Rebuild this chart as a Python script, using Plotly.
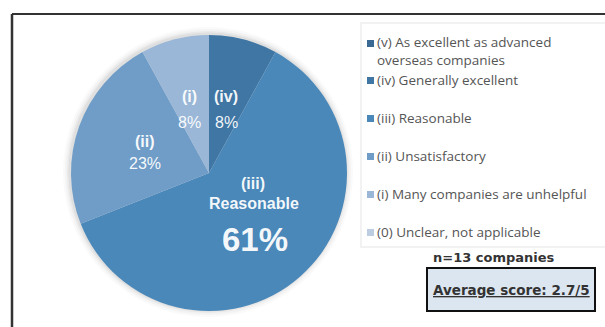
import plotly.graph_objects as go

# Survey response categories (clockwise from 12 o'clock)
codes = ["(v)", "(iv)", "(iii)", "(ii)", "(i)", "(0)"]
legend_labels = [
    "(v) As excellent as advanced<br>overseas companies",
    "(iv) Generally excellent",
    "(iii) Reasonable",
    "(ii) Unsatisfactory",
    "(i) Many companies are unhelpful",
    "(0) Unclear, not applicable",
]
shares = [0, 8, 61, 23, 8, 0]  # percent of respondents
slice_colors = ["#3a6994", "#3f76a4", "#4a88ba", "#6f9dc8", "#9ab7d7", "#bccde2"]
respondents = 13
average_score = "2.7/5"

W, H = 605, 327
cx, cy, r = 209, 173, 138  # pie centre / radius in pixels (from top-left)


def px(x):
    return x / W


def py(y):
    return 1 - y / H


fig = go.Figure()
fig.add_trace(go.Pie(
    labels=codes,
    values=shares,
    sort=False,
    direction="clockwise",
    rotation=0,
    marker=dict(colors=slice_colors, line=dict(width=0)),
    textinfo="none",
    hovertemplate="%{label}: %{value}%<extra></extra>",
    domain=dict(x=[px(cx - r), px(cx + r)], y=[py(cy + r), py(cy - r)]),
    showlegend=False,
))

shapes = []
# soft halo behind the pie
for grow, op in [(7, 0.04), (5, 0.05), (3, 0.07), (1.5, 0.09)]:
    shapes.append(dict(type="circle", xref="paper", yref="paper", layer="below",
                       x0=px(cx - r - grow - 1), x1=px(cx + r + grow - 1),
                       y0=py(cy + r + grow - 1), y1=py(cy - r - grow - 1),
                       fillcolor=f"rgba(120,120,120,{op})", line=dict(width=0)))
# outer frame (top and left edges)
shapes.append(dict(type="line", xref="paper", yref="paper", x0=px(12), x1=1,
                   y0=py(14), y1=py(14), line=dict(color="#333333", width=2)))
shapes.append(dict(type="line", xref="paper", yref="paper", x0=px(12), x1=px(12),
                   y0=py(14), y1=0, line=dict(color="#333333", width=2.5)))
# legend panel with a faint edge
shapes.append(dict(type="rect", xref="paper", yref="paper", layer="below",
                   x0=px(361), x1=px(606), y0=py(247), y1=py(23),
                   fillcolor="#ffffff", line=dict(color="#f2f2f2", width=2)))
# average score box
shapes.append(dict(type="rect", xref="paper", yref="paper",
                   x0=px(427), x1=px(595), y0=py(311), y1=py(268),
                   fillcolor="#dce6f1", line=dict(color="#111111", width=2)))

annotations = []
label_font = "Liberation Sans, Arial, sans-serif"
white = "rgba(255,255,255,0.95)"


def add_text(x, y, text, size, bold=False, color=white, font=label_font, anchor="center"):
    annotations.append(dict(
        xref="paper", yref="paper", x=px(x), y=py(y), xanchor=anchor, yanchor="middle",
        align=anchor if anchor != "center" else "center",
        text=f"<b>{text}</b>" if bold else text, showarrow=False,
        font=dict(family=font, size=size, color=color)))


# slice labels
add_text(189, 97, codes[4], 16, bold=True)
add_text(189, 122, f"{shares[4]}%", 16)
add_text(226, 97, codes[1], 16, bold=True)
add_text(226, 122, f"{shares[1]}%", 16)
add_text(145, 141, codes[3], 16, bold=True)
add_text(145, 163, f"{shares[3]}%", 16)
add_text(253, 183, codes[2], 16, bold=True)
add_text(254, 203, "Reasonable", 16, bold=True)
add_text(255, 239, f"{shares[2]}%", 33, bold=True)

# custom legend
legend_font = "Open Sans, Noto Sans, sans-serif"
legend_size = 13.5
legend_y = [43, 80, 118, 156, 194, 232]
for label, color, y in zip(legend_labels, slice_colors, legend_y):
    shapes.append(dict(type="rect", xref="paper", yref="paper",
                       x0=px(367), x1=px(374), y0=py(y + 4), y1=py(y - 3),
                       fillcolor=color, line=dict(width=0)))
    n_lines = label.count("<br>") + 1
    add_text(375, y + 8 * (n_lines - 1), label, legend_size, color="#555555",
             font=legend_font, anchor="left")

add_text(431, 257, f"n={respondents} companies", 13, bold=True, color="#333333",
         font="DejaVu Sans, sans-serif", anchor="left")
add_text(511, 290, f"<u>Average score: {average_score}</u>", 13.5, bold=True,
         color="#333333", font="DejaVu Sans, sans-serif")

fig.update_layout(
    width=W, height=H,
    margin=dict(l=0, r=0, t=0, b=0),
    paper_bgcolor="white",
    plot_bgcolor="white",
    shapes=shapes,
    annotations=annotations,
)

fig.write_html("out.html")
